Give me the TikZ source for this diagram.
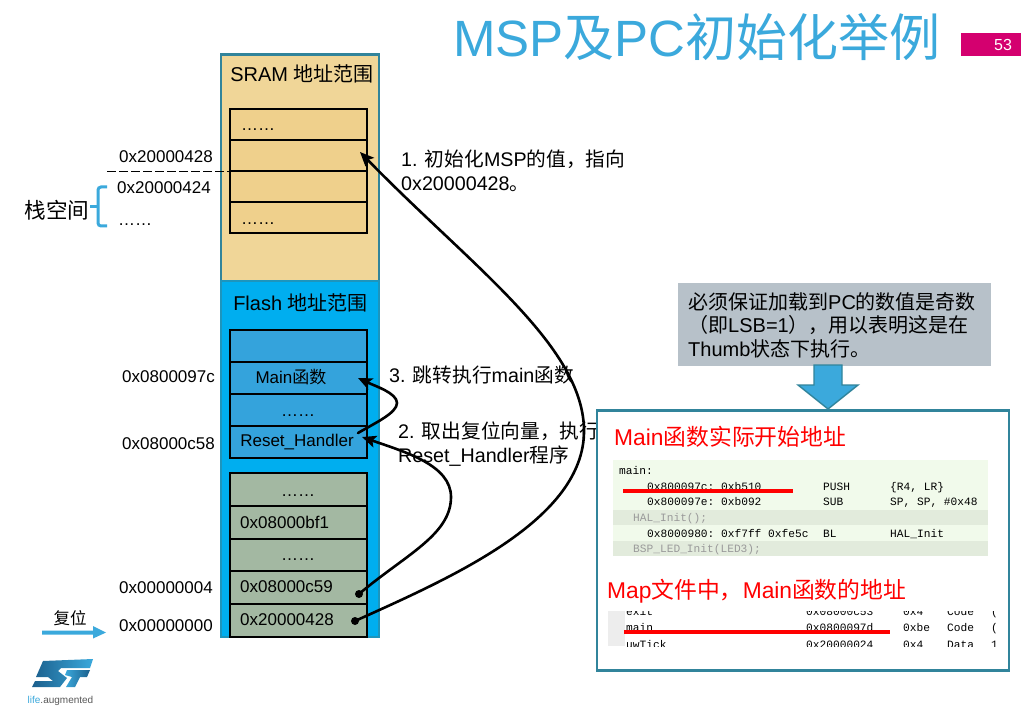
\documentclass[tikz,border=0pt]{standalone}
\usepackage{fontspec}
\usetikzlibrary{arrows.meta}
\setmainfont{Liberation Sans}
\setmonofont{Liberation Mono}
\newfontfamily\cjk{Noto Sans CJK SC}
\newcommand{\zh}[1]{{\cjk #1}}
\normallineskiplimit=-100pt
\lineskiplimit=-100pt
\definecolor{frameblue}{HTML}{31849B}
\definecolor{titleblue}{HTML}{3BA9DC}
\definecolor{sramfill}{HTML}{F0D698}
\definecolor{sramcell}{HTML}{EFD08C}
\definecolor{flashfill}{HTML}{00AEEF}
\definecolor{flashcell}{HTML}{34A3DC}
\definecolor{sagecell}{HTML}{A3B8A2}
\definecolor{pagepink}{HTML}{D4006F}
\definecolor{notegray}{HTML}{B7C1C9}
\definecolor{codebg}{HTML}{F1FAEB}
\definecolor{codeband}{HTML}{E2EBDC}
\definecolor{codegray}{HTML}{9A9A9A}
\definecolor{stdark}{HTML}{1B5F8C}
\definecolor{stlight}{HTML}{3BA9DC}
\tikzset{
  x=1pt,y=-1pt,
  cell/.style={draw=black,line width=2pt,minimum width=137pt,inner sep=0pt,outer sep=0pt},
  sramrow/.style={cell,fill=sramcell,minimum height=31pt},
  flashrow/.style={cell,fill=flashcell,minimum height=32pt},
  vecrow/.style={cell,fill=sagecell,minimum height=33pt},
  addr/.style={font=\fontsize{17}{20}\selectfont,inner sep=0pt,anchor=west},
  celltext/.style={font=\fontsize{17}{20}\selectfont,inner sep=0pt},
  jump/.style={line width=2.6pt,line cap=round},
  note/.style={font=\fontsize{19.7}{24}\selectfont,inner sep=0pt,anchor=west,align=left},
  redhead/.style={font=\fontsize{22.8}{26}\selectfont,text=red,inner sep=0pt,anchor=west},
  code/.style={font=\ttfamily\fontsize{11.2}{13}\selectfont,inner sep=0pt,anchor=west,text height=7.5pt,text depth=0pt},
  redline/.style={draw=red,line width=4pt},
  jumptip/.style={-{Stealth[length=14pt,width=12pt,inset=3pt]}},
}
\begin{document}
\begin{tikzpicture}
\useasboundingbox (0,0) rectangle (1032,711);
\fill[white] (0,0) rectangle (1032,711);
% title
\node[font=\fontsize{51}{56}\selectfont,text=titleblue,inner sep=0pt] (title) at (697,37) {MSP\zh{及}PC\zh{初始化举例}};
\node[fill=pagepink,minimum width=60pt,minimum height=23pt,inner sep=0pt] (page) at (991,44.5) {};
\node[text=white,font=\fontsize{16}{18}\selectfont,inner sep=0pt] (pagenum) at (1003,45) {53};
% memory panels
\node[draw=frameblue,line width=2.4pt,fill=sramfill,minimum width=158pt,minimum height=227pt,inner sep=0pt] (sram) at (300,168) {};
\node[draw=frameblue!60!flashfill,line width=1.6pt,fill=flashfill,minimum width=158pt,minimum height=356pt,inner sep=0pt] (flash) at (300,459) {};
\node[font=\fontsize{20}{24}\selectfont,inner sep=0pt] (sramt) at (302,74) {SRAM \zh{地址范围}};
\node[font=\fontsize{20}{24}\selectfont,inner sep=0pt] (flasht) at (300.5,303) {Flash \zh{地址范围}};
% SRAM cells
\node[sramrow] (s1) at (298,124.5) {};
\node[sramrow] (s2) at (298,155.5) {};
\node[sramrow] (s3) at (298,186.5) {};
\node[sramrow] (s4) at (298,217.5) {};
\node[celltext,anchor=west] (sd1) at (241,130) {……};
\node[celltext,anchor=west] (sd4) at (241,224) {……};
% Flash upper cells
\node[flashrow] (f1) at (298,346) {};
\node[flashrow] (f2) at (298,378) {};
\node[flashrow] (f3) at (298,410) {};
\node[flashrow] (f4) at (298,442) {};
\node[celltext] (ft2) at (291,377) {Main\zh{函数}};
\node[celltext] (ft3) at (298,416) {……};
\node[celltext] (ft4) at (297,442) {Reset\_Handler};
% Flash lower cells
\node[vecrow] (v1) at (298,489.5) {};
\node[vecrow] (v2) at (298,522.5) {};
\node[vecrow] (v3) at (298,555) {};
\node[vecrow] (v4) at (298,587.5) {};
\node[vecrow] (v5) at (298,620.5) {};
\node[celltext] (vt1) at (298,496) {……};
\node[celltext,anchor=west] (vt2) at (240,522) {0x08000bf1};
\node[celltext] (vt3) at (298,560) {……};
\node[celltext,anchor=west] (vt4) at (240,587) {0x08000c59};
\node[celltext,anchor=west] (vt5) at (240,620) {0x20000428};
% addresses
\node[addr] (a1) at (119,157) {0x20000428};
\node[addr] (a2) at (117,188) {0x20000424};
\node[addr] (a3) at (118,225) {……};
\node[addr] (a4) at (122,377) {0x0800097c};
\node[addr] (a5) at (122,444) {0x08000c58};
\node[addr] (a6) at (119,588) {0x00000004};
\node[addr] (a7) at (119,626) {0x00000000};
% dashed boundary
\coordinate (dashstart) at (107,171);
\coordinate (dashend) at (s3.north west);
\draw[line width=0.9pt,dash pattern=on 9pt off 3pt] (dashstart) -- (dashend);
% stack brace
\node[font=\fontsize{21.6}{26}\selectfont,inner sep=0pt] (stack) at (57,210) {\zh{栈空间}};
\coordinate (bt) at (107,187);
\coordinate (bb) at (107,226);
\coordinate (bm) at (90,207);
\draw[titleblue,line width=3pt,rounded corners=3pt] (bt) -- (98,187) -- (98,226) -- (bb);
\draw[titleblue,line width=3pt] (bm) -- (98,207);
% reset arrow
\node[font=\fontsize{16.5}{20}\selectfont,inner sep=0pt] (reset) at (70,618) {\zh{复位}};
\fill[titleblue] (42,630.5) -- (93,630.5) -- (93,626) -- (106,632.5) -- (93,638.5) -- (93,634.5) -- (42,634.5) -- cycle;
% labels
\node[note] (n1) at (401,171) {1. \zh{初始化}MSP\zh{的值，指向}\\0x20000428\zh{。}};
\node[note] (n3) at (389,375) {3. \zh{跳转执行}main\zh{函数}};
\node[note] (n2) at (398,444) {2. \zh{取出复位向量，执行}\\Reset\_Handler\zh{程序}};
% connectors
\coordinate (d1) at (355,621);
\coordinate (d2) at (359,594);
\coordinate (t1) at (360,152);
\coordinate (t2) at (362,437);
\coordinate (t3) at (358,378);
\coordinate (s3o) at (358,433);
\fill (d1) circle (4pt);
\fill (d2) circle (4pt);
\draw[jump,jumptip] (d1) .. controls (450,578) and (585,520) .. (584,430) .. controls (583,345) and (470,265) .. (t1);
\draw[jump,jumptip] (d2) .. controls (405,555) and (451,535) .. (451,497) .. controls (451,465) and (405,452) .. (t2);
\draw[jump,jumptip] (s3o) .. controls (375,423) and (397,413) .. (397,403) .. controls (397,393) and (375,386) .. (t3);
% note box
\node[fill=notegray,minimum width=313pt,minimum height=83pt,inner sep=0pt] (notebox) at (834.5,324.5) {};
\node[font=\fontsize{20}{23.5}\selectfont,inner sep=0pt,anchor=west,align=left] (notetext) at (688,325) {\zh{必须保证加载到}PC\zh{的数值是奇数}\\\zh{（即}LSB=1\zh{），用以表明这是在}\\Thumb\zh{状态下执行。}};
\fill[titleblue,draw=frameblue,line width=1.4pt] (814,365) -- (842,365) -- (842,385) -- (858,385) -- (828,409) -- (798,385) -- (814,385) -- cycle;
% detail box
\node[draw=frameblue,line width=2.4pt,fill=white,minimum width=412pt,minimum height=260pt,inner sep=0pt] (detail) at (803,540.5) {};
\node[redhead] (h1) at (614,437) {Main\zh{函数实际开始地址}};
\node[redhead] (h2) at (607,591) {Map\zh{文件中，}Main\zh{函数的地址}};
% code listing
\fill[codebg] (613,460) rectangle (988,556);
\fill[codeband] (613,510) rectangle (988,525);
\fill[codeband] (613,541) rectangle (988,556);
\node[code] at (619,471) {main:};
\node[code] at (647,487) {0x800097c: 0xb510};
\node[code] at (823,487) {PUSH};
\node[code] at (890,487) {\{R4, LR\}};
\node[code] at (647,502) {0x800097e: 0xb092};
\node[code] at (823,502) {SUB};
\node[code] at (890,502) {SP, SP, \#0x48};
\node[code,text=codegray] at (633,518) {HAL\_Init();};
\node[code] at (647,534) {0x8000980: 0xf7ff 0xfe5c};
\node[code] at (823,534) {BL};
\node[code] at (890,534) {HAL\_Init};
\node[code,text=codegray] at (633,549) {BSP\_LED\_Init(LED3);};
\coordinate (c1s) at (623,491);
\coordinate (c1e) at (793,491);
\draw[redline] (c1s) -- (c1e);
% map listing
\fill[black!7] (608,611) rectangle (625,646);
\begin{scope}
\clip (608,611) rectangle (996,646);
\node[code] at (626,612) {exit};
\node[code] at (806,612) {0x08000c53};
\node[code] at (903,612) {0x4};
\node[code] at (947,612) {Code};
\node[code] at (991,612) {(};
\node[code] at (626,628) {main};
\node[code] at (806,628) {0x0800097d};
\node[code] at (903,628) {0xbe};
\node[code] at (947,628) {Code};
\node[code] at (991,628) {(};
\node[code] at (626,645) {uwTick};
\node[code] at (806,645) {0x20000024};
\node[code] at (903,645) {0x4};
\node[code] at (947,645) {Data};
\node[code] at (991,645) {1};
\end{scope}
\coordinate (c2s) at (624,632);
\coordinate (c2e) at (890,632);
\draw[redline] (c2s) -- (c2e);
% ST logo
\shade[left color=stdark,right color=stlight,shading angle=90] (43,661) -- (93,659) -- (90,668) -- (61,668) -- (58,671) -- (67,678) -- (60,687) -- (32,687) -- (35,681) -- (53,681) -- (48,677) -- (36,677) -- cycle;
\shade[left color=stlight,right color=stdark,shading angle=90] (67,670) -- (90,670) -- (87,677) -- (80,677) -- (75,687) -- (66,687) -- (72,677) -- (65,675) -- cycle;
\node[font=\fontsize{10}{12}\selectfont,inner sep=0pt,text=black!65] (life) at (60.5,701) {\textcolor{titleblue}{life}.augmented};
\end{tikzpicture}
\end{document}
